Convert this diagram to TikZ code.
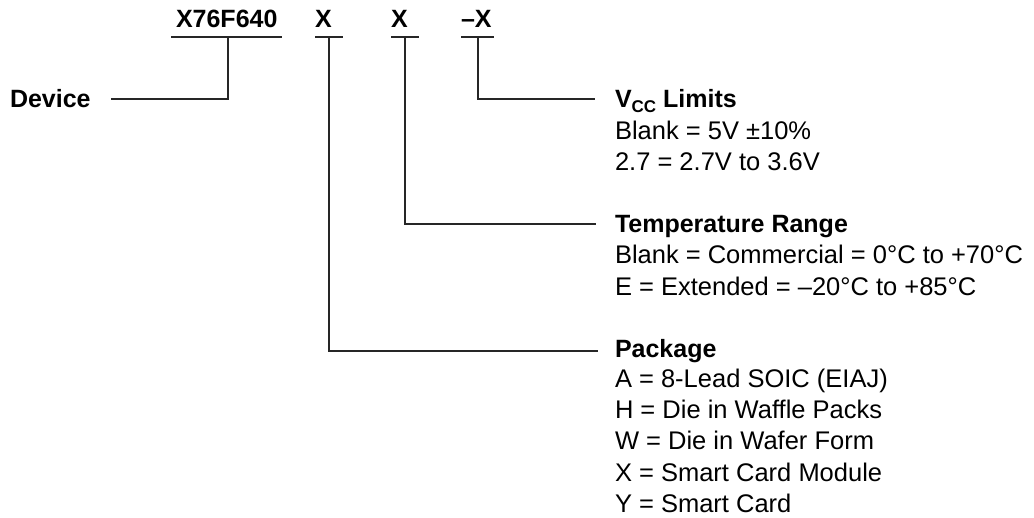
\documentclass[tikz,border=0pt]{standalone}
\usepackage{fontspec}
\setmainfont{Liberation Sans}
\begin{document}
\begin{tikzpicture}[x=1pt,y=-1pt,
  every node/.style={inner sep=0pt, outer sep=0pt, anchor=base west, font=\fontsize{25.5}{31}\selectfont},
  hd/.style={font=\fontsize{25}{31}\selectfont\bfseries},
  ln/.style={line width=1.2pt, black!85}]
\useasboundingbox (0,0) rectangle (1034,517);
% part number fields
\node[hd] (pn) at (176,27) {X76F640};
\node[hd] (f1) at (315,27) {X};
\node[hd] (f2) at (391,27) {X};
\node[hd] (f3) at (461,27) {–X};
% underlines
\draw[ln] (171,37) -- (282,37);
\draw[ln] (315,37) -- (343,37);
\draw[ln] (391,37) -- (419,37);
\draw[ln] (461,37) -- (494,37);
\coordinate (u0) at (228,37);
\coordinate (u1) at (329,37);
\coordinate (u2) at (405,37);
\coordinate (u3) at (478,37);
% labels
\node[hd] (dev) at (10,107) {Device};
\coordinate (devend) at (111,99);
\node[hd] (vcc) at (615,107) {V\raisebox{-5pt}{\fontsize{17}{17}\selectfont CC} Limits};
\node (v1) at (615,139) {Blank = 5V ±10\%};
\node (v2) at (615,170) {2.7 = 2.7V to 3.6V};
\coordinate (vend) at (595,99);
\node[hd] (tmp) at (615,232) {Temperature Range};
\node (t1) at (615,263) {Blank = Commercial = 0°C to +70°C};
\node (t2) at (615,295) {E = Extended = –20°C to +85°C};
\coordinate (tend) at (596,224);
\node[hd] (pkg) at (615,357) {Package};
\node (p1) at (615,387) {A = 8-Lead SOIC (EIAJ)};
\node (p2) at (615,418) {H = Die in Waffle Packs};
\node (p3) at (615,449) {W = Die in Wafer Form};
\node (p4) at (615,481) {X = Smart Card Module};
\node (p5) at (615,512) {Y = Smart Card};
\coordinate (pend) at (598,351);
% connectors
\draw[ln] (u0) |- (devend);
\draw[ln] (u1) |- (pend);
\draw[ln] (u2) |- (tend);
\draw[ln] (u3) |- (vend);
\end{tikzpicture}
\end{document}
